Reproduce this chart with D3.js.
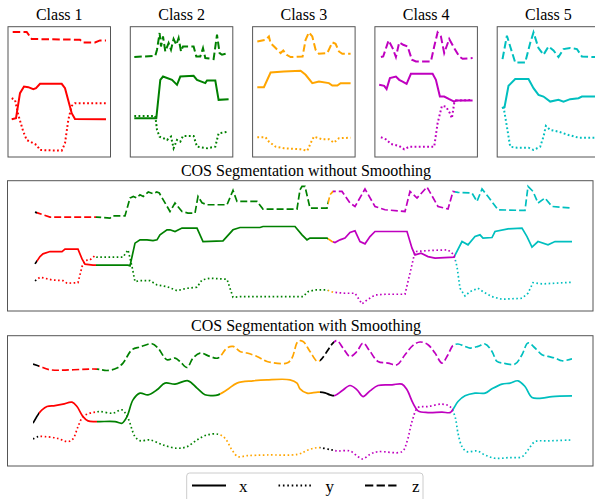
<!DOCTYPE html>
<html>
<head>
<meta charset="utf-8">
<script src="https://cdn.jsdelivr.net/npm/d3@7"></script>
<style>
  body { margin: 0; background: #fff; }
  svg { display: block; font-family: "Liberation Serif", "DejaVu Serif", serif; }
</style>
</head>
<body>
<div id="chart"></div>
<script>
// ---- class names / colours ----
const classNames = ["Class 1", "Class 2", "Class 3", "Class 4", "Class 5"];
const classColors = ["#ff0000", "#008000", "#ffa500", "#bf00bf", "#00bfbf"];

// ---- class templates (time in samples, value per axis) ----
const c1xT = [3.7, 8, 12, 16, 20.3, 25.3, 28, 32, 53.7, 57, 63.7, 67, 98];
const c1xV = [-2.73, -2.63, -0.13, 0.53, 0.47, 0.27, 0.37, 0.8, 0.8, 0.37, -2.13, -2.7, -2.73];
const c1yT = [3.7, 7, 10.3, 15.3, 18.7, 25.3, 28.7, 32, 53.7, 57, 60.3, 63.7, 67, 98];
const c1yV = [-0.63, -0.8, -2.3, -3.97, -4.8, -5.13, -5.3, -5.8, -5.87, -5.13, -2.8, -1.4, -1.13, -1.13];
const c1zT = [4.7, 18.7, 23.7, 72, 75, 87, 92, 98];
const c1zV = [5.97, 5.97, 5.27, 5.2, 4.93, 4.93, 5.13, 5.13];

const c2xT = [4, 26, 30, 32.7, 41.7, 46.7, 50, 63.3, 66.7, 75, 76.7, 85, 88.3, 98.3];
const c2xV = [-2.63, -2.63, 1.2, 1.53, 1.2, 0.7, 1.53, 1.6, 1.2, 0.87, 1.13, 1.13, -0.8, -0.73];
const c2yT = [4, 25, 26.7, 29.3, 33.3, 36.7, 40.7, 43.3, 46.7, 50, 52.7, 63.3, 66.7, 76.7, 85, 88.3, 98.3];
const c2yV = [-2.4, -2.4, -3.8, -4.47, -4.63, -4.8, -4.47, -5.63, -4.8, -4.97, -4.4, -4.4, -5.47, -5.63, -5.47, -4.13, -3.97];
const c2zT = [4, 25, 26.7, 29.3, 30.7, 32.7, 35, 38.3, 40.7, 43.3, 46, 48.3, 50.7, 52.7, 63.3, 66, 70, 72.7, 75, 83.3, 86.7, 89.3, 91.7, 98.3];
const c2zV = [3.47, 3.6, 4.2, 5.87, 4.53, 5.53, 4.03, 4.87, 4.2, 5.27, 4.7, 5.37, 4.03, 4.53, 4.53, 3.53, 3.53, 4.37, 3.37, 3.27, 5.7, 3.87, 3.7, 3.87];

const c3xT = [4.7, 11.3, 18, 31.3, 48, 53, 59.7, 66.3, 76.3, 79.7, 84.7, 88, 98];
const c3xV = [0.47, 0.47, 1.93, 2.03, 2.1, 1.7, 0.87, 1.03, 0.87, 0.63, 0.63, 0.87, 0.87];
const c3yT = [4.7, 13, 16.3, 23, 31.3, 48, 54.7, 58, 61.3, 69.7, 76.3, 81.3, 86.3, 98];
const c3yV = [-4.53, -4.53, -4.97, -5.47, -5.63, -5.73, -5.87, -5.13, -4.47, -4.73, -4.73, -5.07, -4.63, -4.57];
const c3zT = [4.7, 13, 16.3, 18, 23, 28, 30.7, 34, 38, 50, 53, 56.3, 59.7, 63, 66.3, 74.7, 79.7, 83, 86.3, 89.7, 98];
const c3zV = [5.03, 5.2, 5.53, 4.87, 4.37, 3.87, 4.13, 3.7, 3.47, 3.53, 5.2, 5.93, 5.53, 4.2, 3.8, 3.87, 4.93, 4.8, 4.03, 3.8, 3.8];

const c4xT = [4.3, 9.3, 11.7, 15, 21, 24.3, 27.7, 31.7, 36, 57.7, 61, 65, 69.3, 74.3, 79.3, 81, 97.7];
const c4xV = [0.7, 0.6, 0.27, 1.37, 1.53, 1.2, 1.03, 0.8, 1.8, 1.8, 1.2, -0.47, -0.47, -0.73, -0.97, -0.87, -0.87];
const c4yT = [6, 11, 16, 24.3, 29.3, 34.3, 59.3, 62.7, 67, 71, 75, 77, 79.3, 81, 97.7];
const c4yV = [-4.53, -4.73, -5.2, -5.4, -5.73, -5.47, -5.47, -3.13, -1.4, -1.47, -2.13, -2.63, -1.13, -0.87, -0.8];
const c4zT = [6, 8.3, 13.7, 17.7, 21, 24.3, 28.3, 32.7, 37, 41, 56, 59.3, 62.7, 66, 69.3, 74.3, 79.3, 84.3, 87.7, 97.7];
const c4zV = [3.47, 3.53, 5.13, 4.37, 3.47, 4.93, 4.7, 4.53, 3.2, 3.03, 3.03, 4.53, 5.93, 5.53, 3.87, 5.27, 4.37, 3.53, 3.3, 3.37];

const c5xT = [4.7, 7.3, 11.3, 18, 31.3, 36.3, 41.3, 46.3, 53, 61.3, 66.3, 73, 81.3, 84.7, 98];
const c5xV = [-1.63, -1.53, 0.6, 1.27, 1.27, 0.37, -0.3, -0.47, -0.97, -0.8, -0.97, -0.73, -0.63, -0.47, -0.47];
const c5yT = [6.3, 9.7, 13, 19.7, 31.3, 36.3, 43, 46.3, 48.7, 53, 61.3, 71.3, 81.3, 98];
const c5yV = [-1.47, -3.47, -5.47, -5.57, -5.57, -5.8, -5.47, -4.47, -3.4, -3.8, -3.97, -4.3, -4.57, -4.57];
const c5zT = [5.3, 9.7, 13, 18, 28, 33, 36.3, 41.3, 46.3, 51.3, 56.3, 61.3, 66.3, 73, 79.7, 84.7, 98];
const c5zV = [3.27, 5.6, 4.53, 2.93, 2.93, 4.87, 5.93, 4.37, 3.7, 4.53, 4.13, 3.47, 4.27, 4.37, 4.27, 3.53, 3.47];

// ---- concatenated signal, without smoothing ----
const rawxT = [0, 5, 8, 15, 27, 30, 43, 47, 50, 58, 93, 95, 100, 105, 112, 118, 122, 125, 132, 135, 140, 147, 162, 168, 188, 198, 205, 225, 228, 260, 267, 272, 275, 292, 297, 300, 305, 310, 315, 320, 325, 330, 335, 340, 372, 377, 380, 386, 393, 400, 419, 427, 433, 440, 445, 448, 457, 460, 473, 487, 492, 497, 503, 513, 520, 537];
const rawxV = [-1.8, -1.07, -0.8, -0.57, -0.57, -0.33, -0.33, -1.3, -1.83, -1.93, -1.93, -2.0, 0.27, 0.6, 0.6, 0.53, 0.6, 1.1, 1.6, 1.6, 1.43, 1.77, 1.77, 0.43, 0.5, 1.6, 1.83, 1.83, 1.93, 1.93, 1.1, 0.6, 0.77, 0.77, 0.43, 0.33, 0.6, 0.77, 1.33, 1.5, 0.43, 0.2, 0.93, 1.43, 1.43, -0.23, -0.9, -0.73, -1.07, -1.23, -1.13, 0.43, 0.1, 0.93, 1.1, 0.77, 0.83, 1.43, 1.7, 1.77, 0.93, -0.13, 0.43, 0.1, 0.43, 0.43];
const rawyT = [0, 5, 10, 17, 28, 32, 43, 47, 50, 55, 60, 62, 88, 93, 97, 100, 105, 115, 122, 132, 142, 152, 162, 167, 175, 192, 198, 205, 262, 268, 273, 280, 292, 298, 310, 320, 327, 332, 340, 350, 370, 375, 380, 393, 413, 419, 422, 425, 430, 435, 443, 448, 457, 467, 487, 493, 498, 507, 537];
const rawyV = [-3.5, -3.13, -3.23, -3.4, -3.47, -3.73, -3.67, -2.07, -1.47, -1.4, -0.97, -1.13, -1.13, -0.4, -2.07, -3.57, -3.47, -3.47, -3.9, -4.07, -4.47, -4.23, -4.13, -3.4, -3.23, -3.33, -5.13, -5.07, -5.07, -5.07, -4.57, -4.4, -4.4, -4.63, -4.73, -4.73, -5.8, -5.4, -4.9, -4.83, -4.83, -2.73, -0.57, -0.47, -0.4, -0.9, -2.07, -4.23, -5.0, -4.57, -4.23, -4.57, -5.07, -5.33, -5.23, -4.73, -3.67, -3.8, -3.63];
const rawzT = [0, 15, 61.7, 75, 78, 90, 95, 98.3, 101.7, 105, 108.3, 113.3, 118.3, 121.7, 124.3, 135, 140, 147, 153, 160, 163, 167, 172, 192, 198, 202, 222, 228, 262, 265, 267, 270, 275, 292, 295, 298, 307, 315, 320, 330, 340, 350, 370, 375, 382, 392, 403, 413, 418, 423, 437, 442, 447, 453, 463, 490, 493, 498, 503, 510, 517, 537];
const rawzV = [3.37, 2.87, 2.87, 2.77, 3.0, 3.0, 4.77, 4.93, 4.77, 5.1, 4.93, 5.37, 5.2, 5.37, 5.27, 3.43, 4.27, 3.43, 3.27, 3.27, 4.93, 4.3, 4.1, 4.1, 5.53, 4.43, 4.43, 3.67, 3.67, 5.6, 5.93, 5.93, 3.77, 3.77, 5.1, 5.43, 5.43, 4.27, 3.93, 5.67, 3.93, 3.6, 3.43, 5.43, 4.77, 5.87, 3.93, 3.67, 5.43, 5.33, 5.27, 4.43, 5.67, 4.93, 3.6, 3.53, 5.93, 5.43, 4.27, 4.77, 3.93, 3.77];
// segments: [class index (-1 = unassigned), start, end]
const rawSegments = [[-1, -1, 2], [0, 2, 61], [1, 61, 293], [2, 293, 298], [3, 298, 420], [4, 420, 537]];

// ---- concatenated signal, with smoothing ----
const smxT = [-2, 4, 7, 12, 20, 28, 37, 42, 48, 53, 60, 65, 80, 87, 92, 98, 105, 113, 122, 130, 140, 153, 162, 170, 178, 183, 192, 202, 218, 232, 255, 262, 265, 272, 283, 290, 295, 300, 307, 315, 322, 328, 335, 343, 357, 367, 372, 378, 383, 393, 407, 415, 417, 423, 430, 440, 450, 457, 467, 475, 483, 490, 497, 507, 517, 537];
const smxV = [-2.23, -1.23, -0.9, -0.57, -0.47, -0.33, -0.13, -0.57, -1.57, -2.0, -2.07, -2.07, -2.07, -2.23, -1.57, 0.1, 0.77, 0.6, 1.1, 1.77, 1.67, 2.0, 1.27, 0.6, 0.53, 0.6, 1.1, 1.77, 2.0, 2.1, 2.1, 1.77, 1.2, 0.77, 0.87, 0.8, 0.6, 0.53, 1.0, 1.53, 1.1, 0.43, 1.0, 1.53, 1.6, 1.67, 1.1, -0.23, -1.0, -1.17, -1.13, -1.17, -1.0, -0.07, 0.5, 0.77, 0.77, 1.2, 1.67, 1.77, 2.0, 1.43, 0.33, 0.27, 0.43, 0.5];
const smyT = [-2, 3, 10, 22, 33, 38, 43, 48, 55, 60, 65, 78, 87, 93, 100, 105, 115, 128, 142, 152, 162, 172, 183, 190, 197, 203, 212, 232, 263, 273, 283, 297, 303, 315, 323, 328, 335, 343, 367, 372, 377, 383, 393, 407, 415, 420, 423, 427, 432, 442, 450, 460, 473, 487, 493, 500, 513, 537];
const smyV = [-3.8, -3.57, -3.57, -3.73, -4.07, -3.8, -2.57, -1.57, -1.23, -1.13, -1.07, -1.23, -0.9, -1.73, -3.57, -3.97, -3.9, -4.4, -4.73, -4.57, -3.9, -3.4, -3.33, -3.73, -4.9, -5.57, -5.47, -5.4, -5.33, -4.9, -4.67, -4.9, -5.0, -5.0, -5.57, -5.8, -5.33, -5.07, -5.07, -4.07, -2.07, -0.67, -0.57, -0.33, -0.57, -1.57, -3.23, -4.57, -5.07, -5.0, -5.4, -5.73, -5.67, -5.57, -4.9, -4.07, -4.0, -3.9];
const smzT = [-2, 5, 15, 62, 72, 82, 88, 97, 105, 117, 123, 132, 140, 145, 152, 158, 165, 175, 183, 192, 198, 205, 212, 222, 232, 252, 257, 263, 268, 275, 283, 298, 302, 308, 315, 322, 328, 335, 343, 353, 362, 370, 378, 385, 393, 400, 407, 413, 418, 423, 430, 435, 443, 450, 457, 462, 468, 480, 487, 493, 500, 507, 513, 520, 527, 537];
const smzV = [3.67, 3.43, 3.1, 3.17, 3.03, 3.27, 3.77, 5.1, 5.37, 5.7, 5.27, 4.1, 4.27, 3.93, 3.33, 4.27, 4.77, 4.43, 4.27, 5.27, 5.43, 4.93, 4.77, 4.43, 3.93, 3.77, 4.27, 5.93, 5.93, 4.93, 3.93, 5.77, 6.0, 5.27, 4.43, 4.93, 5.77, 4.93, 3.93, 3.77, 3.6, 4.6, 5.53, 5.87, 5.6, 4.77, 3.77, 4.6, 5.53, 5.67, 5.43, 5.27, 5.43, 5.67, 4.93, 3.93, 3.77, 3.67, 4.6, 5.77, 5.27, 4.6, 4.43, 4.27, 4.0, 4.2];
const smSegments = [[-1, -2, 4], [0, 4, 62], [1, 62, 185], [2, 185, 285], [-1, 285, 299], [3, 299, 418], [4, 418, 537]];

// ---- legend ----
const axisNames = ["x", "y", "z"];

// ---- build tables ----
const templates = [
    { x: d3.zip(c1xT, c1xV), y: d3.zip(c1yT, c1yV), z: d3.zip(c1zT, c1zV) },
    { x: d3.zip(c2xT, c2xV), y: d3.zip(c2yT, c2yV), z: d3.zip(c2zT, c2zV) },
    { x: d3.zip(c3xT, c3xV), y: d3.zip(c3yT, c3yV), z: d3.zip(c3zT, c3zV) },
    { x: d3.zip(c4xT, c4xV), y: d3.zip(c4yT, c4yV), z: d3.zip(c4zT, c4zV) },
    { x: d3.zip(c5xT, c5xV), y: d3.zip(c5yT, c5yV), z: d3.zip(c5zT, c5zV) }
];
const rawSeries = { x: d3.zip(rawxT, rawxV), y: d3.zip(rawyT, rawyV), z: d3.zip(rawzT, rawzV) };
const smSeries = { x: d3.zip(smxT, smxV), y: d3.zip(smyT, smyV), z: d3.zip(smzT, smzV) };

const W = 595, H = 499;
const yDomain = [-6.5, 6.5];
const colorOf = c => c < 0 ? "#000" : classColors[c];

// line styles for the template panels and the segmentation panels
const tplStyle = { width: 2, dash: { x: null, y: "1.8,2.4", z: "7.5,3.3" } };
const segStyle = { width: 1.7, dash: { x: null, y: "1.6,2.5", z: "7,3" } };

const svg = d3.select("#chart").append("svg")
    .attr("width", W)
    .attr("height", H);

// Class template panels
const panelW = 102.5, panelStep = 122.3, panelTop = 26.7, panelBottom = 157;

templates.forEach((tpl, i) => {
    const left = 8 + i * panelStep;
    const x = d3.scaleLinear().domain([0, panelW]).range([left, left + panelW]);
    const y = d3.scaleLinear().domain(yDomain).range([panelBottom, panelTop]);
    const line = d3.line().x(d => x(d[0])).y(d => y(d[1]));

    const g = svg.append("g").attr("class", "class-panel");

    g.append("text")
        .attr("x", left + panelW / 2)
        .attr("y", 19.5)
        .attr("text-anchor", "middle")
        .style("font-size", "16px")
        .text(classNames[i]);

    axisNames.forEach(k => {
        g.append("path")
            .datum(tpl[k])
            .attr("d", line)
            .attr("fill", "none")
            .attr("stroke", classColors[i])
            .attr("stroke-width", tplStyle.width)
            .attr("stroke-dasharray", tplStyle.dash[k]);
    });

    g.append("rect")
        .attr("x", left)
        .attr("y", panelTop)
        .attr("width", panelW)
        .attr("height", panelBottom - panelTop)
        .attr("fill", "none")
        .attr("stroke", "#555")
        .attr("stroke-width", 1);
});

// Segmentation panels
function drawSegPanel(id, top, bottom, title, titleY, series, segments, curve) {
    const left = 7.5, right = 593;
    const x = d3.scaleLinear().domain([-27.5, 558]).range([left, right]);
    const y = d3.scaleLinear().domain(yDomain).range([bottom, top]);
    const line = d3.line().x(d => x(d[0])).y(d => y(d[1])).curve(curve);

    const g = svg.append("g").attr("class", "seg-panel");

    g.append("text")
        .attr("x", 306)
        .attr("y", titleY)
        .attr("text-anchor", "middle")
        .style("font-size", "16px")
        .text(title);

    // one clip rectangle per segment, so each class gets its own colour
    const defs = g.append("defs");
    segments.forEach((s, j) => {
        defs.append("clipPath")
            .attr("id", `${id}-clip-${j}`)
            .append("rect")
            .attr("x", x(s[1]))
            .attr("y", top - 5)
            .attr("width", x(s[2]) - x(s[1]))
            .attr("height", bottom - top + 10);
    });

    segments.forEach((s, j) => {
        axisNames.forEach(k => {
            g.append("path")
                .datum(series[k])
                .attr("d", line)
                .attr("clip-path", `url(#${id}-clip-${j})`)
                .attr("fill", "none")
                .attr("stroke", colorOf(s[0]))
                .attr("stroke-width", segStyle.width)
                .attr("stroke-dasharray", segStyle.dash[k]);
        });
    });

    g.append("rect")
        .attr("x", left)
        .attr("y", top)
        .attr("width", right - left)
        .attr("height", bottom - top)
        .attr("fill", "none")
        .attr("stroke", "#555")
        .attr("stroke-width", 1);
}

drawSegPanel("raw", 180.7, 311, "COS Segmentation without Smoothing", 176, rawSeries, rawSegments, d3.curveLinear);
drawSegPanel("sm", 335.7, 466, "COS Segmentation with Smoothing", 331, smSeries, smSegments, d3.curveCatmullRom.alpha(0.5));

// Legend
const legend = svg.append("g").attr("class", "legend");
legend.append("rect")
    .attr("x", 186.7)
    .attr("y", 473)
    .attr("width", 236.3)
    .attr("height", 40)
    .attr("rx", 3)
    .attr("fill", "#fff")
    .attr("stroke", "#ccc")
    .attr("stroke-width", 1);

axisNames.forEach((k, i) => {
    const lx = 192 + i * 86.5;
    legend.append("line")
        .attr("x1", lx)
        .attr("x2", lx + 34)
        .attr("y1", 485.5)
        .attr("y2", 485.5)
        .attr("stroke", "#000")
        .attr("stroke-width", 2)
        .attr("stroke-dasharray", k === "y" ? "1.6,2.8" : k === "z" ? "8.3,3.3" : null);
    legend.append("text")
        .attr("x", lx + 47)
        .attr("y", 491.5)
        .attr("text-anchor", "start")
        .style("font-size", "17px")
        .text(k);
});
</script>
</body>
</html>
